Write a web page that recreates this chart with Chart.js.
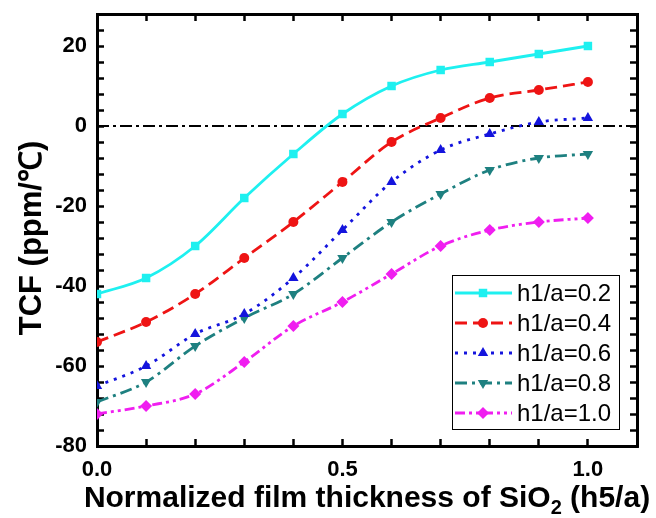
<!DOCTYPE html>
<html lang="en">
<head>
    <meta charset="UTF-8">
    <title>TCF vs SiO2 thickness</title>
    <style>
        body {
            margin: 0;
            background-color: #ffffff;
        }
    </style>
</head>
<body>
    <canvas id="myChart" width="656" height="518"></canvas>
    <script src="https://cdn.jsdelivr.net/npm/chart.js"></script>
    <script>
        // normalized SiO2 thickness h5/a
        const thickness = [0, 0.1, 0.2, 0.3, 0.4, 0.5, 0.6, 0.7, 0.8, 0.9, 1.0]
        // TCF (ppm/℃) for each h1/a
        const tcf02 = [-42, -38, -30, -18, -7, 3, 10, 14, 16, 18, 20]
        const tcf04 = [-54, -49, -42, -33, -24, -14, -4, 2, 7, 9, 11]
        const tcf06 = [-65, -60, -52, -47, -38, -26, -14, -6, -2, 1, 2]
        const tcf08 = [-69, -64, -55, -48, -42, -33, -24, -17, -11, -8, -7]
        const tcf10 = [-72, -70, -67, -59, -50, -44, -37, -30, -26, -24, -23]
        const seriesNames = ['h1/a=0.2', 'h1/a=0.4', 'h1/a=0.6', 'h1/a=0.8', 'h1/a=1.0']
        const xTicks = [0, 0.5, 1.0]
        const yTicks = [-80, -60, -40, -20, 0, 20]
        const xMinorStep = 0.1
        const yMinorStep = 4

        const series = [tcf02, tcf04, tcf06, tcf08, tcf10]
        const colors = ['#1EF0F0', '#EE1414', '#1414DD', '#1E8080', '#F01EF0']
        const shapes = ['rect', 'circle', 'triangle', 'triangle', 'rectRot']
        const rotations = [0, 0, 0, 180, 0]
        const radii = [6, 5, 6, 6, 6]
        const dashes = [[], [12, 6], [3, 6], [12, 5, 3, 5], [10, 4, 3, 4, 3, 4]]

        const datasets = series.map((vals, i) => ({
            label: seriesNames[i],
            data: thickness.map((t, j) => ({ x: t, y: vals[j] })),
            borderColor: colors[i],
            backgroundColor: colors[i],
            borderWidth: 2.8,
            borderDash: dashes[i],
            pointStyle: shapes[i],
            rotation: rotations[i],
            pointRadius: radii[i],
            pointBorderWidth: 0,
            cubicInterpolationMode: 'monotone',
            fill: false
        }))

        const xMin = 0, xMax = 1.1, yMin = -80, yMax = 28
        const tickFont = { family: 'Arial, "Liberation Sans"', size: 22, weight: 'bold' }

        // every minor position, labelled ones come from xTicks / yTicks
        const minorTicks = (lo, hi, step) => {
            const out = []
            const n = Math.round((hi - lo) / step)
            for (let i = 0; i <= n; i++) out.push({ value: +(lo + i * step).toFixed(6) })
            return out
        }
        const isLabel = (list, v) => list.some(t => Math.abs(t - v) < 1e-6)

        // inward tick marks plus a thick border, shared by all four sides
        const sideGrid = {
            display: true,
            drawOnChartArea: false,
            drawTicks: true,
            tickLength: -7,
            tickWidth: 2.5,
            tickColor: '#000'
        }
        const sideBorder = { display: true, width: 3, color: '#000' }

        // dash-dot line at TCF = 0
        const zeroLine = {
            id: 'zeroLine',
            beforeDatasetsDraw(chart) {
                const { ctx, chartArea, scales } = chart
                const y = scales.y.getPixelForValue(0)
                ctx.save()
                ctx.strokeStyle = '#000'
                ctx.lineWidth = 1.8
                ctx.setLineDash([12, 4, 3, 4])
                ctx.beginPath()
                ctx.moveTo(chartArea.left, y)
                ctx.lineTo(chartArea.right, y)
                ctx.stroke()
                ctx.restore()
            }
        }

        // boxed legend in the lower right corner of the plot
        function drawLegend(chart) {
            const ctx = chart.ctx
            const bx = 452, by = 275, bw = 167, bh = 154
            ctx.save()
            ctx.fillStyle = '#fff'
            ctx.fillRect(bx, by, bw, bh)
            ctx.strokeStyle = '#000'
            ctx.lineWidth = 1
            ctx.strokeRect(bx + 0.5, by + 0.5, bw, bh)
            ctx.font = '24px Arial, "Liberation Sans"'
            ctx.textBaseline = 'middle'
            chart.data.datasets.forEach((ds, i) => {
                const y = by + 18 + i * 30
                ctx.strokeStyle = ds.borderColor
                ctx.lineWidth = 2.8
                ctx.setLineDash(ds.borderDash)
                ctx.beginPath()
                ctx.moveTo(bx + 3, y)
                ctx.lineTo(bx + 60, y)
                ctx.stroke()
                ctx.setLineDash([])
                ctx.fillStyle = ds.backgroundColor
                Chart.helpers.drawPoint(ctx, {
                    pointStyle: ds.pointStyle,
                    rotation: ds.rotation,
                    radius: ds.pointRadius,
                    borderWidth: 0
                }, bx + 31, y)
                ctx.fillStyle = '#000'
                ctx.fillText(ds.label, bx + 65, y + 1)
            })
            ctx.restore()
        }

        // axis titles, x title with subscript
        function drawTitles(chart) {
            const ctx = chart.ctx
            ctx.save()
            ctx.fillStyle = '#000'
            ctx.textBaseline = 'alphabetic'

            ctx.save()
            ctx.font = 'bold 31px Arial, "Liberation Sans"'
            ctx.translate(41, 238)
            ctx.rotate(-Math.PI / 2)
            ctx.textAlign = 'center'
            ctx.fillText('TCF (ppm/℃)', 0, 0)
            ctx.restore()

            ctx.textAlign = 'left'
            const big = 'bold 30px Arial, "Liberation Sans"'
            const small = 'bold 20px Arial, "Liberation Sans"'
            const p1 = 'Normalized film thickness of SiO'
            const p2 = '2'
            const p3 = ' (h5/a)'
            ctx.font = big
            const w1 = ctx.measureText(p1).width
            const w3 = ctx.measureText(p3).width
            ctx.font = small
            const w2 = ctx.measureText(p2).width
            let x = 367 - (w1 + w2 + w3) / 2
            const base = 507
            ctx.font = big
            ctx.fillText(p1, x, base)
            x += w1
            ctx.font = small
            ctx.fillText(p2, x, base + 7)
            x += w2
            ctx.font = big
            ctx.fillText(p3, x, base)
            ctx.restore()
        }

        const decorations = {
            id: 'decorations',
            afterDraw(chart) {
                drawLegend(chart)
                drawTitles(chart)
            }
        }

        const noPadX = s => { s.paddingLeft = 0; s.paddingRight = 0 }
        const noPadY = s => { s.paddingTop = 0; s.paddingBottom = 0 }

        const ctx = document.getElementById('myChart')
        const myChart = new Chart(ctx, {
            type: 'line',
            data: { datasets: datasets },
            plugins: [zeroLine, decorations],
            options: {
                responsive: false,
                animation: false,
                layout: {
                    autoPadding: false,
                    padding: { top: 14, right: 19, left: 0, bottom: 0 }
                },
                plugins: {
                    legend: { display: false },
                    tooltip: { enabled: false }
                },
                scales: {
                    x: {
                        type: 'linear',
                        position: 'bottom',
                        min: xMin,
                        max: xMax,
                        afterBuildTicks: s => { s.ticks = minorTicks(xMin, xMax, xMinorStep) },
                        afterFit: s => { s.height = 72; noPadX(s) },
                        grid: sideGrid,
                        border: sideBorder,
                        ticks: {
                            color: '#000',
                            font: tickFont,
                            padding: 18,
                            autoSkip: false,
                            maxRotation: 0,
                            callback: v => isLabel(xTicks, v) ? v.toFixed(1) : ''
                        }
                    },
                    x2: {
                        type: 'linear',
                        position: 'top',
                        min: xMin,
                        max: xMax,
                        afterBuildTicks: s => { s.ticks = minorTicks(xMin, xMax, xMinorStep) },
                        afterFit: s => { s.height = 0; noPadX(s) },
                        grid: sideGrid,
                        border: sideBorder,
                        ticks: { display: false, autoSkip: false }
                    },
                    y: {
                        type: 'linear',
                        position: 'left',
                        min: yMin,
                        max: yMax,
                        afterBuildTicks: s => { s.ticks = minorTicks(yMin, yMax, yMinorStep) },
                        afterFit: s => { s.width = 97; noPadY(s) },
                        grid: sideGrid,
                        border: sideBorder,
                        ticks: {
                            color: '#000',
                            font: tickFont,
                            padding: 17,
                            autoSkip: false,
                            callback: v => isLabel(yTicks, v) ? String(v) : ''
                        }
                    },
                    y2: {
                        type: 'linear',
                        position: 'right',
                        min: yMin,
                        max: yMax,
                        afterBuildTicks: s => { s.ticks = minorTicks(yMin, yMax, yMinorStep) },
                        afterFit: s => { s.width = 0; noPadY(s) },
                        grid: sideGrid,
                        border: sideBorder,
                        ticks: { display: false, autoSkip: false }
                    }
                }
            }
        })
    </script>
</body>
</html>
